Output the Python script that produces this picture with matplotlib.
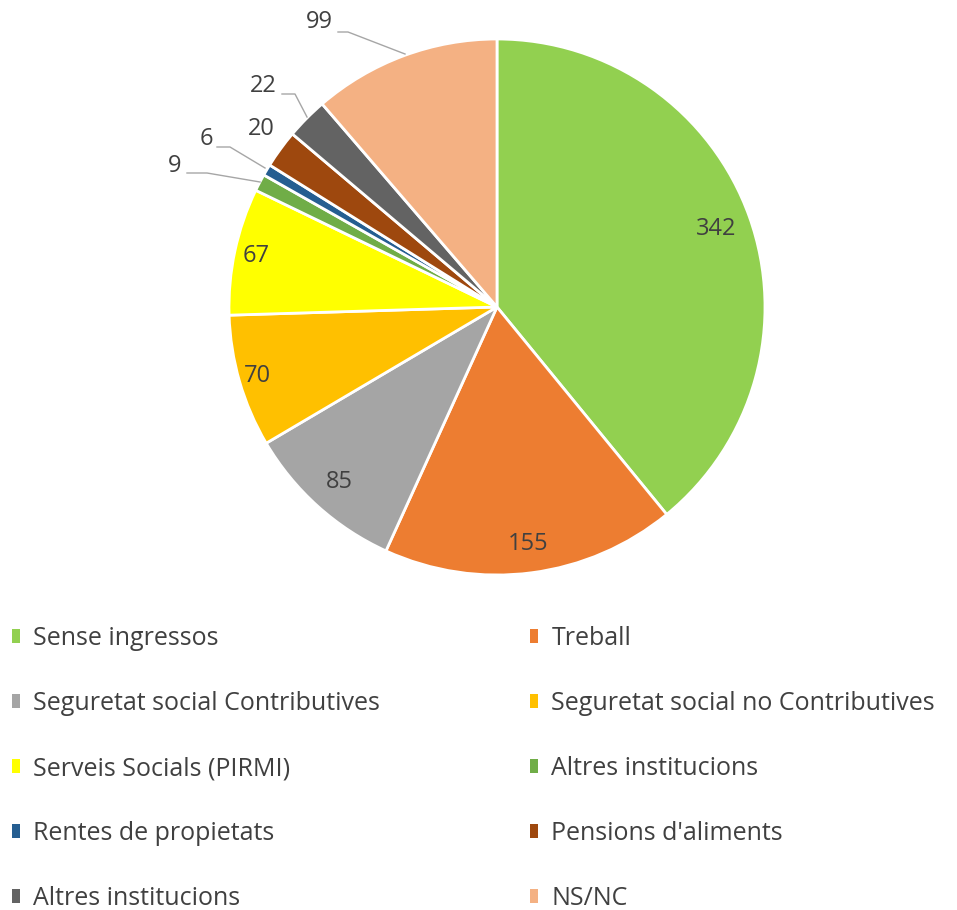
import numpy as np
import matplotlib.pyplot as plt
from matplotlib.patches import Patch

plt.rcParams['font.family'] = ['Open Sans', 'DejaVu Sans']

# dades
categories = ['Sense ingressos', 'Treball', 'Seguretat social Contributives',
              'Seguretat social no Contributives', 'Serveis Socials (PIRMI)',
              'Altres institucions', 'Rentes de propietats', "Pensions d'aliments",
              'Altres institucions', 'NS/NC']
values = [342, 155, 85, 70, 67, 9, 6, 20, 22, 99]
colors = ['#92D050', '#ED7D31', '#A5A5A5', '#FFC000', '#FFFF00',
          '#70AD47', '#255E91', '#9E480E', '#636363', '#F4B183']

W, H = 957, 910
fig = plt.figure(figsize=(W / 100, H / 100), dpi=100)

cx, cy, R = 497, 307, 268
ax = fig.add_axes([(cx - R) / W, 1 - (cy + R) / H, 2 * R / W, 2 * R / H])
wedges, _ = ax.pie(values, colors=colors, startangle=90, counterclock=False,
                   radius=1, wedgeprops=dict(edgecolor='white', linewidth=2))
ax.set_xlim(-1, 1)
ax.set_ylim(-1, 1)
ax.set_aspect('equal')
ax.axis('off')

txt_col = '#404040'
line_col = '#A6A6A6'


def px(x, y):
    # pixel -> coordenades de dades
    return ((x - cx) / R, (cy - y) / R)


# etiquetes interiors
inside = {0: 0.87, 1: 0.89, 2: 0.88, 3: 0.93, 4: 0.92}
for i, r in inside.items():
    w = wedges[i]
    a = np.deg2rad((w.theta1 + w.theta2) / 2)
    ax.text(r * np.cos(a), r * np.sin(a), str(values[i]), ha='center', va='center',
            fontsize=17, color=txt_col)

# etiquetes exteriors amb línies guia
outside = [
    (9, (175, 166), [(187, 173), (207, 173), (260, 182)]),
    (6, (206, 139), [(217, 147), (230, 147), (265, 168)]),
    (20, (261, 129), None),
    (22, (263, 86), [(282, 94), (295, 94), (307, 117)]),
    (99, (319, 22), [(338, 32), (348, 32), (405, 54)]),
]
for v, (tx, ty), pts in outside:
    x, y = px(tx, ty)
    ax.text(x, y, str(v), ha='center', va='center', fontsize=17, color=txt_col,
            clip_on=False)
    if pts:
        xs, ys = zip(*[px(a, b) for a, b in pts])
        ax.plot(xs, ys, color=line_col, lw=1, clip_on=False)

# llegenda en files (ordre per files amb ncol=2)
order = [0, 2, 4, 6, 8, 1, 3, 5, 7, 9]
handles = [Patch(facecolor=colors[i], edgecolor='none') for i in order]
labels = [categories[i] for i in order]
leg = fig.legend(handles, labels, ncol=2, loc='upper left',
                 bbox_to_anchor=(12 / W, 1 - 626 / H),
                 frameon=False, fontsize=18, labelspacing=1.6,
                 handlelength=0.3, handleheight=0.52, handletextpad=0.55,
                 columnspacing=6.0, borderpad=0, borderaxespad=0)
for t in leg.get_texts():
    t.set_color(txt_col)

fig.savefig('out.png', dpi=100, facecolor='white')
